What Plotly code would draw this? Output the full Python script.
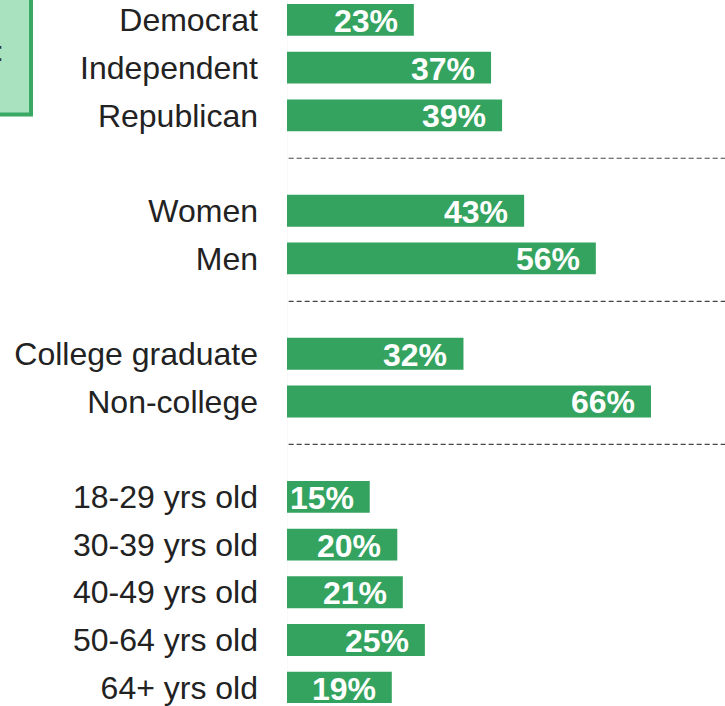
import plotly.graph_objects as go

# Survey breakdown, grouped
party = ["Democrat", "Independent", "Republican"]
party_vals = [23, 37, 39]
gender = ["Women", "Men"]
gender_vals = [43, 56]
education = ["College graduate", "Non-college"]
education_vals = [32, 66]
age = ["18-29 yrs old", "30-39 yrs old", "40-49 yrs old", "50-64 yrs old", "64+ yrs old"]
age_vals = [15, 20, 21, 25, 19]

groups = [(party, party_vals), (gender, gender_vals),
          (education, education_vals), (age, age_vals)]

W, H = 725, 706
AXIS_PX = 287          # pixel position of the zero line
ROW_PX = 47.9          # pixel height of one row
FIRST_PX = 20          # pixel centre of the first row
X_SCALE = 5.515        # pixels per percentage point

GREEN = "#35a360"
FONT = "Liberation Sans, Arial, sans-serif"

# lay rows out with one blank row between groups
labels, values, rows, dividers = [], [], [], []
r = 0
for gi, (cats, vals) in enumerate(groups):
    for c, v in zip(cats, vals):
        labels.append(c)
        values.append(v)
        rows.append(r)
        r += 1
    if gi < len(groups) - 1:
        dividers.append(r - 0.1)
        r += 1

y_top = -FIRST_PX / ROW_PX
y_bot = (H - FIRST_PX) / ROW_PX
x_max = (W - AXIS_PX) / X_SCALE

fig = go.Figure(go.Bar(
    x=values, y=rows, orientation="h", width=0.668,
    marker=dict(color=GREEN, line=dict(width=0)),
    hoverinfo="skip",
))

for v, y in zip(values, rows):
    fig.add_annotation(
        x=v, y=y, xref="x", yref="y", text=f"{v}%", showarrow=False,
        xanchor="right", yanchor="middle", xshift=-14, yshift=-1,
        font=dict(family=FONT, size=32, color="white", weight="bold"),
    )

for d in dividers:
    fig.add_shape(type="line", xref="x", yref="y", x0=0.3, x1=x_max, y0=d, y1=d,
                  line=dict(color="#444444", width=1.2, dash="5px,3px"))

# zero line
fig.add_shape(type="line", xref="x", yref="paper", x0=-0.15, x1=-0.15, y0=0, y1=1,
              line=dict(color="#dcdcdc", width=2), layer="below")

# note box at the top left
pw = W - AXIS_PX
fig.add_shape(type="rect", xref="paper", yref="paper",
              x0=(-10 - AXIS_PX) / pw, x1=(31 - AXIS_PX) / pw,
              y0=1 - 115 / H, y1=1.05,
              fillcolor="#a8e2bf", line=dict(color="#38a862", width=4), layer="above")
fig.add_annotation(xref="paper", yref="paper", x=(-6 - AXIS_PX) / pw, y=1 - 52 / H,
                   text=":", showarrow=False, xanchor="left", yanchor="middle",
                   font=dict(family=FONT, size=28, color="#333333"))

fig.update_layout(
    width=W, height=H, margin=dict(l=AXIS_PX, r=0, t=0, b=0),
    plot_bgcolor="white", paper_bgcolor="white", showlegend=False,
    xaxis=dict(range=[0, x_max], visible=False, fixedrange=True),
    yaxis=dict(range=[y_bot, y_top], tickvals=rows, ticktext=labels,
               showgrid=False, zeroline=False, showline=False, ticks="",
               ticklabelstandoff=28, ticklabeloverflow="allow",
               tickfont=dict(family=FONT, size=32, color="#222222")),
)

fig.write_html("out.html")
